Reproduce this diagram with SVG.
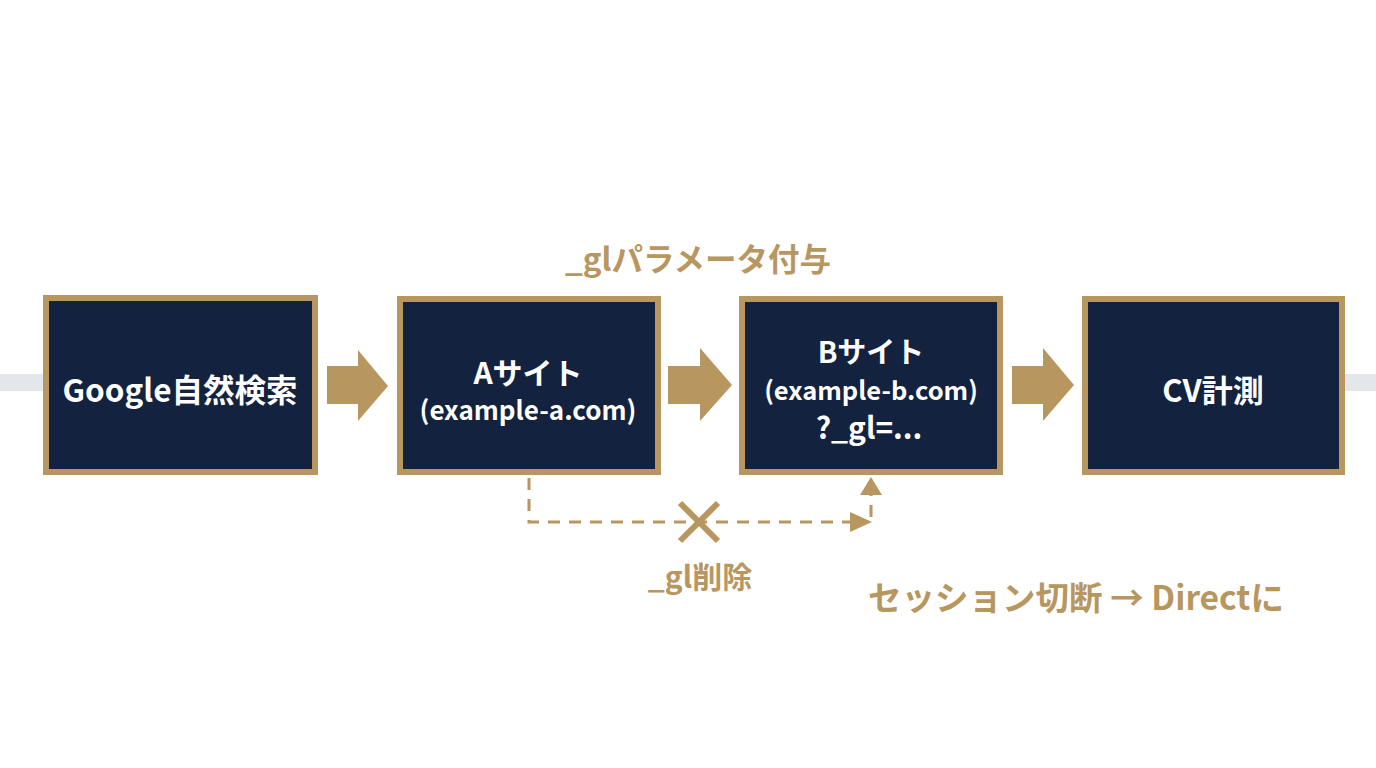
<svg xmlns="http://www.w3.org/2000/svg" width="1376" height="768" viewBox="0 0 1376 768">
<style>
.box{fill:#13223f;stroke:#b8965f;stroke-width:6}
.wt{fill:#ffffff;font-family:"Noto Sans CJK JP","Noto Sans",sans-serif;font-weight:700;text-anchor:middle;dominant-baseline:central}
.gt{fill:#b8965f;font-family:"Noto Sans CJK JP","Noto Sans",sans-serif;font-weight:700;text-anchor:middle;dominant-baseline:central}
.blk{fill:#b8965f}
.dash{fill:none;stroke:#b8965f;stroke-width:3;stroke-dasharray:12 9}
</style>
<rect width="1376" height="768" fill="#ffffff"/>
<g id="backline">
<rect x="0" y="374" width="46" height="17" fill="#e3e6ea"/>
<rect x="1342" y="374" width="34" height="17" fill="#e3e6ea"/>
</g>
<g id="connectors">
<polygon class="blk" points="327,366 358,366 358,350 388,386 358,421 358,404 327,404"/>
<polygon class="blk" points="668,366 700,366 700,348 732,385 700,421 700,404 668,404"/>
<polygon class="blk" points="1012,366 1043,366 1043,348 1074,385 1043,421 1043,404 1012,404"/>
<polyline class="dash" points="529,478 529,522 852,522"/>
<polygon class="blk" points="850,512 872,522 850,532"/>
<line class="dash" x1="871" y1="517" x2="871" y2="495"/>
<polygon class="blk" points="860,495 871,477 882,495"/>
<g stroke="#b8965f" stroke-width="6">
<line x1="680" y1="503" x2="718" y2="541"/>
<line x1="718" y1="503" x2="680" y2="541"/>
</g>
</g>
<g id="node-google">
<rect class="box" x="46" y="298" width="269" height="174"/>
<text class="wt" x="180" y="388" font-size="31.5">Google自然検索</text>
</g>
<g id="node-a">
<rect class="box" x="400" y="299" width="258" height="173"/>
<text class="wt" x="528" y="371" font-size="30">Aサイト</text>
<text class="wt" x="528" y="408" font-size="26">(example-a.com)</text>
</g>
<g id="node-b">
<rect class="box" x="742" y="299" width="258" height="173"/>
<text class="wt" x="871" y="350" font-size="29">Bサイト</text>
<text class="wt" x="871" y="388" font-size="25.5">(example-b.com)</text>
<text class="wt" x="869" y="426" font-size="30">?_gl=...</text>
</g>
<g id="node-cv">
<rect class="box" x="1085" y="299" width="257" height="173"/>
<text class="wt" x="1213" y="388" font-size="31">CV計測</text>
</g>
<g id="labels">
<text class="gt" x="698" y="257" font-size="31.5">_glパラメータ付与</text>
<text class="gt" x="700" y="575" font-size="30">_gl削除</text>
<text class="gt" x="1076" y="595" font-size="33.5">セッション切断 → Directに</text>
</g>
</svg>
